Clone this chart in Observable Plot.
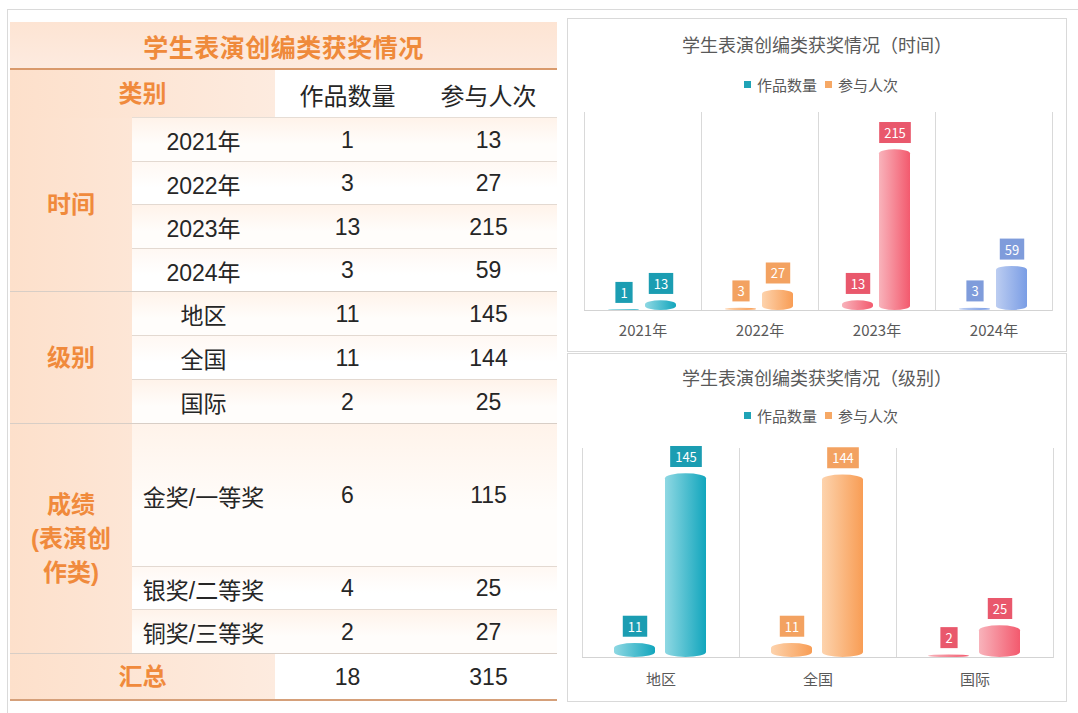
<!DOCTYPE html>
<html><head><meta charset="utf-8">
<script src="https://cdn.jsdelivr.net/npm/d3@7"></script>
<script src="https://cdn.jsdelivr.net/npm/@observablehq/plot@0.6"></script>
<style>
body{margin:0;background:#fff;width:1078px;height:713px;overflow:hidden;position:relative;font-family:"Liberation Sans","Noto Sans CJK SC",sans-serif;}
.a{position:absolute;box-sizing:border-box;}
.c{display:flex;align-items:center;justify-content:center;text-align:center;white-space:pre-line;}
.title{color:#ef8a3b;font-weight:bold;font-size:25px;letter-spacing:0.5px;}
.grp{color:#f08a3c;font-weight:bold;font-size:24px;line-height:34px;}
.txt{color:#262626;font-size:23px;}
.hdr{color:#262626;font-size:24px;}
.ct{color:#595959;font-size:18px;font-family:"Noto Sans CJK SC",sans-serif;text-align:center;}
.lg{color:#595959;font-size:15px;font-family:"Noto Sans CJK SC",sans-serif;display:flex;justify-content:center;align-items:center;gap:0;}
.sq{display:inline-block;width:7px;height:7px;margin:0 6px 0 8px;}
</style></head><body>
<svg width="0" height="0" style="position:absolute">
<defs>
<linearGradient id="gr-teal" x1="0" x2="1" y1="0" y2="0"><stop offset="0" stop-color="#8fd8e3"/><stop offset="1" stop-color="#12a6bd"/></linearGradient>
<linearGradient id="gr-orange" x1="0" x2="1" y1="0" y2="0"><stop offset="0" stop-color="#fdd3ad"/><stop offset="1" stop-color="#f89d55"/></linearGradient>
<linearGradient id="gr-red" x1="0" x2="1" y1="0" y2="0"><stop offset="0" stop-color="#f8b3bb"/><stop offset="1" stop-color="#f35a6e"/></linearGradient>
<linearGradient id="gr-blue" x1="0" x2="1" y1="0" y2="0"><stop offset="0" stop-color="#bccdf1"/><stop offset="1" stop-color="#7a9de5"/></linearGradient>
</defs></svg>
<script>
// ---------- data ----------
const tableTitle = "学生表演创编类获奖情况";
const headerLabels = ["类别", "作品数量", "参与人次"];
const groupNames = ["时间", "级别", "成绩\n(表演创\n作类)"];
const timeCats = ["2021年", "2022年", "2023年", "2024年"];
const timeWorks = [1, 3, 13, 3];
const timePeople = [13, 27, 215, 59];
const levelCats = ["地区", "全国", "国际"];
const levelWorks = [11, 11, 2];
const levelPeople = [145, 144, 25];
const awardCats = ["金奖/一等奖", "银奖/二等奖", "铜奖/三等奖"];
const awardWorks = [6, 4, 2];
const awardPeople = [115, 25, 27];
const totalLabel = "汇总";
const totalWorks = 18;
const totalPeople = 315;
const seriesNames = ["作品数量", "参与人次"];
const chartTitleTime = "学生表演创编类获奖情况（时间）";
const chartTitleLevel = "学生表演创编类获奖情况（级别）";

// ---------- styles ----------
const palette = {
  teal: {label: "#1b9db2", legend: "#1fa3b6"},
  orange: {label: "#f3a261", legend: "#f6a865"},
  red: {label: "#e9586c", legend: "#ee6a7a"},
  blue: {label: "#7f9cdb", legend: "#86a2e0"}
};
const timeColors = ["teal", "orange", "red", "blue"];
const levelColors = ["teal", "orange", "red"];

function div(x, y, w, h, cls, style, text) {
  const d = document.createElement("div");
  d.className = "a " + (cls || "");
  Object.assign(d.style, {left: x + "px", top: y + "px", width: w + "px", height: h + "px"}, style || {});
  if (text !== undefined) d.textContent = text;
  document.body.appendChild(d);
  return d;
}

// frame lines
div(7, 9, 1071, 1, "", {background: "#dadada"});
div(7, 9, 1, 704, "", {background: "#dadada"});

// ---------- table ----------
const X0 = 10, X1 = 132, X2 = 275, X3 = 420, X4 = 557;
div(X0, 22, X4 - X0, 47, "c title", {background: "linear-gradient(#fde4d3,#fdebe0)"}, tableTitle);
div(X0, 68, X4 - X0, 2, "", {background: "#d99a6c"});
div(X0, 70, X2 - X0, 48, "c grp", {background: "linear-gradient(90deg,#fde0cb,#fdebdf)"}, headerLabels[0]);
div(X2, 70, X3 - X2, 48, "c hdr", {background: "#fff"}, headerLabels[1]);
div(X3, 70, X4 - X3, 48, "c hdr", {background: "#fff"}, headerLabels[2]);

const groups = [
  {name: groupNames[0], cats: timeCats, w: timeWorks, p: timePeople, h: [44, 43, 44, 43]},
  {name: groupNames[1], cats: levelCats, w: levelWorks, p: levelPeople, h: [44, 44, 44]},
  {name: groupNames[2], cats: awardCats, w: awardWorks, p: awardPeople, h: [143, 43, 44]}
];
let y = 118;
div(X1, y - 1, X4 - X1, 1, "", {background: "#e6ddd5"});
groups.forEach((g, gi) => {
  const gTop = y;
  g.cats.forEach((c, i) => {
    const h = g.h[i];
    const bg = i % 2 === 0 ? "linear-gradient(#fff3ea,#fffdfb 60%)" : "linear-gradient(#fff8f3,#ffffff 60%)";
    div(X1, y, X4 - X1, h, "", {background: bg});
    div(X1, y, X2 - X1, h, "c txt", {}, c);
    div(X2, y, X3 - X2, h, "c txt", {}, String(g.w[i]));
    div(X3, y, X4 - X3, h, "c txt", {}, String(g.p[i]));
    y += h;
    if (i < g.cats.length - 1) div(X1, y - 1, X4 - X1, 1, "", {background: "#e3d9d1"});
  });
  div(X0, gTop, X1 - X0, y - gTop, "c grp", {background: "linear-gradient(90deg,#fde0cb,#fde6d6)"}, g.name);
  div(X0, y - 1, X4 - X0, 1, "", {background: "#d8cec6"});
});
div(X0, y, X2 - X0, 700 - y, "c grp", {background: "linear-gradient(90deg,#fde0cb,#fdebdf)"}, totalLabel);
div(X2, y, X3 - X2, 700 - y, "c txt", {background: "#fff"}, String(totalWorks));
div(X3, y, X4 - X3, 700 - y, "c txt", {background: "#fff"}, String(totalPeople));
div(X0, 699, X4 - X0, 2, "", {background: "#d5a07a"});

// ---------- charts ----------
function legend(x, y, w) {
  const d = div(x, y - 10, w, 20, "lg");
  seriesNames.forEach((s, i) => {
    const sq = document.createElement("span");
    sq.className = "sq";
    sq.style.background = i === 0 ? palette.teal.legend : palette.orange.legend;
    d.appendChild(sq);
    const t = document.createElement("span");
    t.textContent = s;
    d.appendChild(t);
  });
}

function chart(cats, works, people, colors, yMax, opt) {
  const data = cats.flatMap((c, i) => [
    {cat: c, s: seriesNames[0], v: works[i], col: colors[i]},
    {cat: c, s: seriesNames[1], v: people[i], col: colors[i]}
  ]);
  const svg = Plot.plot({
    width: opt.w, height: opt.h,
    marginLeft: 15, marginRight: 14, marginTop: opt.mt, marginBottom: opt.mb,
    style: {fontFamily: "'Noto Sans CJK SC', sans-serif", fontSize: "15px", color: "#595959", background: "transparent", overflow: "visible"},
    fx: {domain: cats, padding: 0, axis: "bottom", tickSize: 0, tickPadding: opt.tp, label: null},
    x: {domain: seriesNames, axis: null, paddingInner: opt.pi, paddingOuter: opt.po},
    y: {domain: [0, yMax], axis: null},
    marks: [
      Plot.frame({anchor: "left", stroke: "#d9d9d9"}),
      Plot.frame({anchor: "right", stroke: "#d9d9d9"}),
      Plot.ruleY([0], {stroke: "#d3d3d3"}),
      Plot.barY(data, {fx: "cat", x: "s", y: "v", fill: d => `url(#gr-${d.col})`, rx: opt.rx, ry: opt.ry}),
      Plot.text(data, {fx: "cat", x: "s", y: "v", text: d => String(d.v), dy: -16, fill: d => palette[d.col].label, fontSize: 13})
    ]
  });
  svg.style.position = "absolute";
  svg.style.left = opt.x + "px";
  svg.style.top = opt.y + "px";
  document.body.appendChild(svg);
  svg.querySelectorAll('g[aria-label="text"] text').forEach(t => {
    const b = t.getBBox();
    const r = document.createElementNS("http://www.w3.org/2000/svg", "rect");
    r.setAttribute("x", b.x - 5);
    r.setAttribute("y", b.y + b.height / 2 - 10.5);
    r.setAttribute("width", b.width + 10);
    r.setAttribute("height", 21);
    r.setAttribute("fill", t.getAttribute("fill"));
    if (t.getAttribute("transform")) r.setAttribute("transform", t.getAttribute("transform"));
    t.parentNode.insertBefore(r, t);
    t.setAttribute("fill", "#fff");
  });
}

// top chart box
div(567, 18, 500, 334, "", {border: "1px solid #d9d9d9", background: "#fff"});
div(567, 31, 500, 26, "ct", {}, chartTitleTime);
legend(567, 84, 500);
chart(timeCats, timeWorks, timePeople, timeColors, 265,
  {x: 567, y: 100, w: 500, h: 245, mt: 12, mb: 35, tp: 15, pi: 0.158, po: 0.632, rx: 16, ry: 4});

// bottom chart box
div(567, 353, 500, 349, "", {border: "1px solid #d9d9d9", background: "#fff"});
div(567, 364, 500, 26, "ct", {}, chartTitleLevel);
legend(567, 415, 500);
chart(levelCats, levelWorks, levelPeople, levelColors, 165,
  {x: 567, y: 436, w: 500, h: 260, mt: 12, mb: 39, tp: 17, pi: 0.192, po: 0.606, rx: 21, ry: 5});
</script>
</body></html>
